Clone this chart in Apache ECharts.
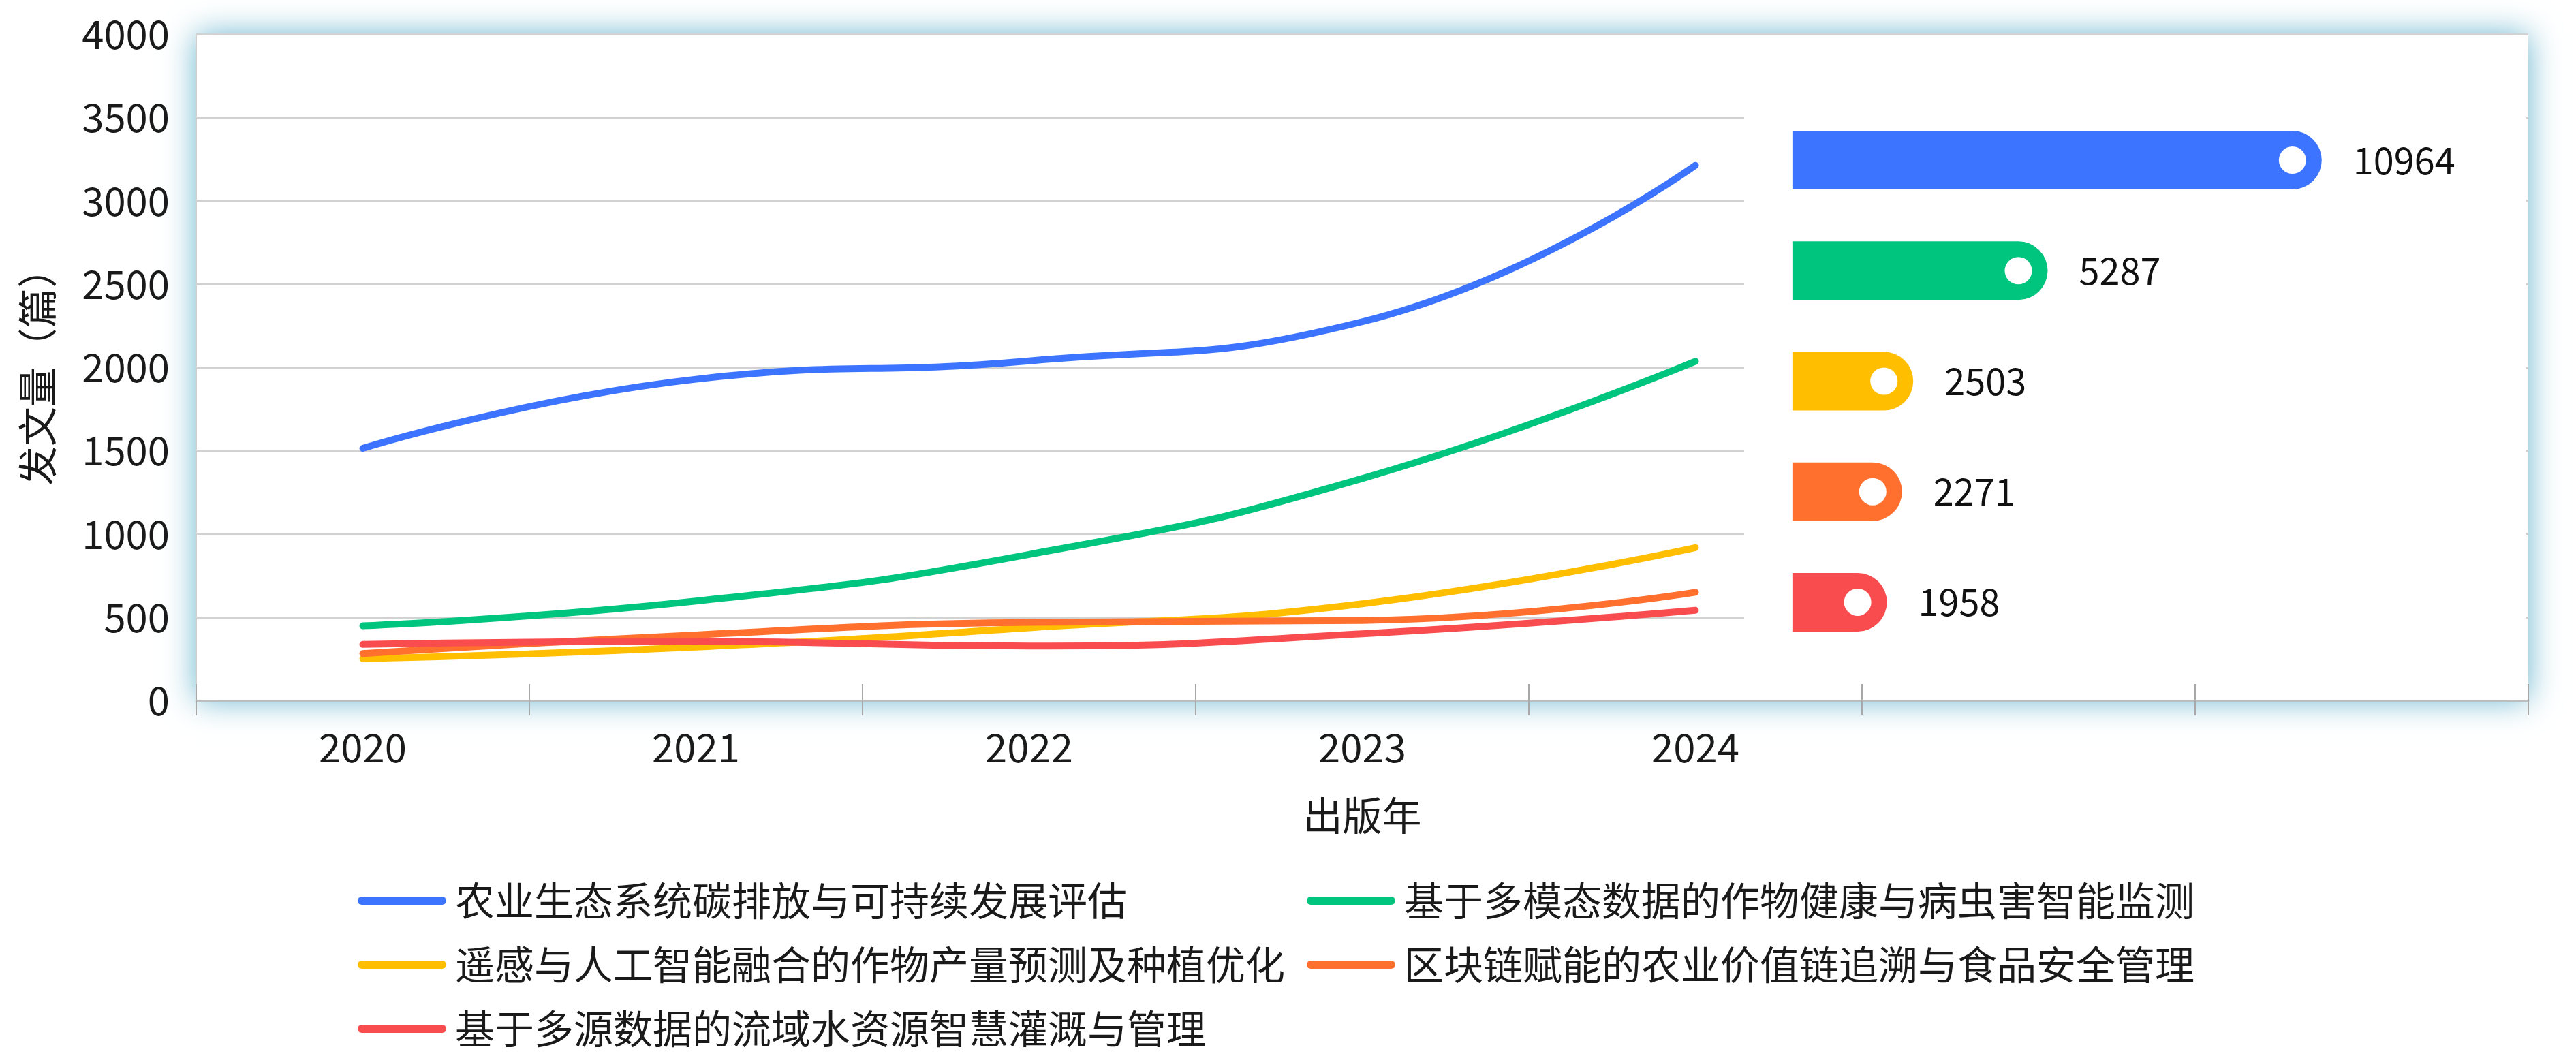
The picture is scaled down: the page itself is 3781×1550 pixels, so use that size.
<!DOCTYPE html>
<html>
<head>
<meta charset="utf-8">
<script src="https://cdn.jsdelivr.net/npm/echarts@6/dist/echarts.min.js"></script>
<style>html,body{margin:0;padding:0;background:#fff;}#main{width:3781px;height:1550px;}</style>
</head>
<body>
<div id="main"></div>
<script>
var years = ['2020', '2021', '2022', '2023', '2024', '', ''];
var seriesNames = [
  '农业生态系统碳排放与可持续发展评估',
  '基于多模态数据的作物健康与病虫害智能监测',
  '遥感与人工智能融合的作物产量预测及种植优化',
  '区块链赋能的农业价值链追溯与食品安全管理',
  '基于多源数据的流域水资源智慧灌溉与管理'
];
var s1 = [1513, 1928, 2038, 2273, 3212];
var s2 = [448, 596, 876, 1332, 2035];
var s3 = [250, 320, 436, 580, 917];
var s4 = [281, 393, 468, 480, 649];
var s5 = [336, 355, 326, 400, 541];
var totals = [10964, 5287, 2503, 2271, 1958];
var colors = ['#3D74FF', '#00C57F', '#FFBE00', '#FF6F2E', '#F94C4E'];
var yTicks = { min: 0, max: 4000, interval: 500 };

var FONT = '"Noto Sans CJK SC", "Noto Sans", sans-serif';
var lineData = [s1, s2, s3, s4, s5];

var chart = echarts.init(document.getElementById('main'));

var series = lineData.map(function (d, i) {
  return {
    name: seriesNames[i],
    type: 'line',
    xAxisIndex: 0,
    yAxisIndex: 0,
    data: d,
    smooth: true,
    symbol: 'none',
    lineStyle: { width: 10, color: colors[i], cap: 'round' },
    itemStyle: { color: colors[i] },
    z: 2
  };
});

series.push({
  type: 'bar',
  xAxisIndex: 2,
  yAxisIndex: 1,
  barWidth: 86,
  z: 5,
  data: totals.map(function (v, i) {
    return { value: v, itemStyle: { color: colors[i] } };
  }),
  itemStyle: { borderRadius: [0, 43, 43, 0] },
  label: {
    show: true,
    position: 'right',
    distance: 46,
    color: '#111',
    fontSize: 54,
    fontFamily: FONT
  }
});

series.push({
  type: 'scatter',
  xAxisIndex: 2,
  yAxisIndex: 1,
  z: 6,
  symbol: 'circle',
  symbolSize: 40,
  symbolOffset: [-43, 0],
  itemStyle: { color: '#fff', opacity: 1 },
  data: totals,
  silent: true
});

var option = {
  animation: false,
  backgroundColor: '#fff',
  color: colors,
  textStyle: { fontFamily: FONT },
  grid: [
    {
      left: 288, right: 70, top: 50, bottom: 522,
      show: true,
      backgroundColor: '#fff',
      borderWidth: 0,
      shadowColor: 'rgba(105,180,206,1)',
      shadowBlur: 44
    },
    {
      left: 2560, right: 73, top: 154, bottom: 585,
      show: true,
      backgroundColor: '#fff',
      borderWidth: 0,
      z: 3
    }
  ],
  legend: {
    data: seriesNames,
    left: 520,
    top: 1280,
    width: 2800,
    orient: 'horizontal',
    itemWidth: 130,
    itemHeight: 12,
    itemGap: 20,
    icon: 'path://M6,0 H124 A6,6 0 0 1 124,12 H6 A6,6 0 0 1 6,0 Z',
    textStyle: {
      fontSize: 58,
      color: '#1a1a1a',
      fontFamily: FONT,
      width: 1230,
      lineHeight: 74,
      padding: [0, 0, 0, 8]
    }
  },
  xAxis: [
    {
      type: 'category',
      gridIndex: 0,
      data: years,
      boundaryGap: true,
      name: '出版年',
      nameLocation: 'middle',
      nameGap: 140,
      nameTextStyle: { fontSize: 58, color: '#1a1a1a', fontFamily: FONT },
      axisLine: { show: true, lineStyle: { color: '#bdbdbd', width: 3 } },
      axisTick: { show: true, length: 22, lineStyle: { color: '#a8a8a8', width: 2 } },
      axisLabel: { fontSize: 58, color: '#1a1a1a', margin: 40, fontFamily: FONT },
      splitLine: { show: false }
    },
    {
      type: 'category',
      gridIndex: 0,
      data: years,
      position: 'bottom',
      boundaryGap: true,
      axisLine: { show: false },
      axisTick: { show: true, inside: true, length: 24, lineStyle: { color: '#a8a8a8', width: 2 } },
      axisLabel: { show: false },
      splitLine: { show: false }
    },
    {
      type: 'value',
      gridIndex: 1,
      min: -1000,
      max: 15200,
      show: false,
      splitLine: { show: false }
    }
  ],
  yAxis: [
    {
      type: 'value',
      gridIndex: 0,
      min: yTicks.min,
      max: yTicks.max,
      interval: yTicks.interval,
      name: '发文量（篇）',
      nameLocation: 'middle',
      nameGap: 204,
      nameTextStyle: { fontSize: 58, color: '#1a1a1a', fontFamily: FONT },
      axisLine: { show: true, lineStyle: { color: '#d0d0d0', width: 2 } },
      axisTick: { show: false },
      axisLabel: {
        fontSize: 58, color: '#1a1a1a', margin: 39, fontFamily: FONT,
        formatter: function (v) { return String(v); }
      },
      splitLine: { show: true, lineStyle: { color: '#d2d2d2', width: 3 } }
    },
    {
      type: 'category',
      gridIndex: 1,
      data: seriesNames,
      inverse: true,
      show: false
    }
  ],
  series: series
};

chart.setOption(option);
</script>
</body>
</html>
